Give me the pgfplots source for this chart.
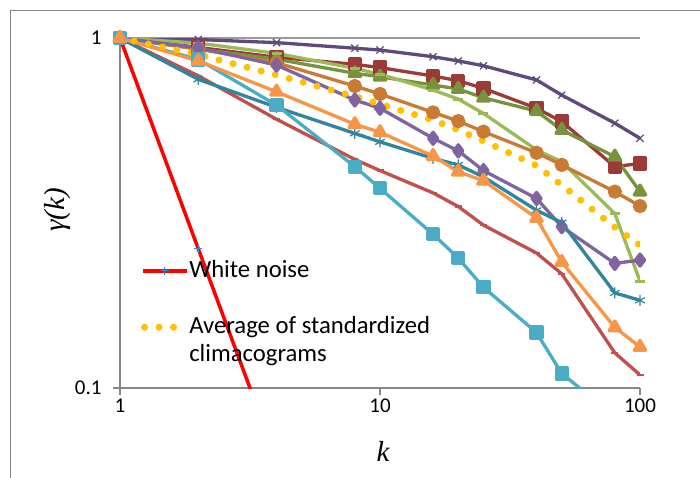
\documentclass[border=0pt]{standalone}
\usepackage{fontspec}
\setmainfont{Carlito}
\newfontfamily\tnr{Liberation Serif}
\usepackage{pgfplots}
\pgfplotsset{compat=1.18}
\definecolor{axgray}{HTML}{878787}
\definecolor{gridgray}{HTML}{9A9A9A}
\definecolor{cA}{HTML}{604A7B}
\definecolor{cB}{HTML}{9B3B38}
\definecolor{cC}{HTML}{77933C}
\definecolor{cD}{HTML}{9BBB59}
\definecolor{cE}{HTML}{C97A33}
\definecolor{cF}{HTML}{8064A2}
\definecolor{cG}{HTML}{F79646}
\definecolor{cH}{HTML}{31859C}
\definecolor{cI}{HTML}{C0504D}
\definecolor{cJ}{HTML}{4BACC6}
\definecolor{cWN}{HTML}{FF0000}
\definecolor{cWNm}{HTML}{4F81BD}
\definecolor{cAvg}{HTML}{FFC000}
\pgfplotsset{
  wnlegend/.style={legend image code/.code={\draw[mark repeat=2,mark phase=2,##1] plot coordinates {(0pt,0pt) (22pt,0pt) (44pt,0pt)};}},
  avglegend/.style={legend image code/.code={\draw[##1] (2pt,0pt) -- (33pt,0pt);}},
}
\begin{document}
\begin{tikzpicture}
\fill[white] (-120pt,-89pt) rectangle (580pt,388pt);
\path[use as bounding box] (-120pt,-89pt) rectangle (580pt,388pt);
\draw[axgray, line width=1pt] (-109pt,-95pt) -- (-109pt,377pt) -- (590pt,377pt);
\begin{axis}[
  scale only axis, width=520pt, height=350pt, at={(0,0)}, anchor=south west,
  xmode=log, ymode=log, xmin=1, xmax=100, ymin=0.1, ymax=1,
  axis x line*=bottom, axis y line*=left,
  axis line style={draw=axgray, line width=1.3pt, -},
  xtick={1,10,100}, xticklabels={1,10,100},
  ytick={0.1,1}, yticklabels={0.1,1},
  xminorticks=false, yminorticks=false,
  tick align=outside, major tick length=7pt,
  tick style={draw=axgray, line width=1.3pt},
  ymajorgrids, grid style={draw=gridgray, line width=1.5pt},
  tick label style={font=\fontsize{21}{25}\selectfont},
  yticklabel style={xshift=-8pt},
  xlabel={\tnr\itshape k},
  ylabel={\tnr\itshape γ(k)},
  xlabel style={font=\fontsize{29}{34}\selectfont, at={(axis description cs:0.506,-0.181)}, anchor=center},
  ylabel style={font=\fontsize{29}{34}\selectfont, at={(axis description cs:-0.121,0.509)}, anchor=center},
  every axis plot/.append style={line width=3.3pt, line join=round},
  legend cell align=left,
  legend style={draw=none, fill=none, at={(axis description cs:0.040,0.3686)}, anchor=north west,
    inner sep=0pt, outer sep=0pt, row sep=4.1pt, column sep=1pt,
    nodes={inner sep=0pt, text height=18.5pt, text depth=5.5pt},
    font=\fontsize{24.7}{29}\selectfont},
]
% White noise
\addplot[color=cWN, line width=3.5pt, mark=+, mark size=4pt, mark options={draw=cWNm, line width=1pt}, wnlegend]
  coordinates {(1,1) (2,0.25) (4,0.0625) (8,0.015625)};
\addlegendimage{empty legend}
% A dark purple x
\addplot[forget plot, color=cA, mark=x, mark size=5pt, mark options={line width=1.3pt}]
  coordinates {(1,1)(2,0.99)(4,0.97)(8,0.935)(10,0.924)(16,0.884)(20,0.86)(25,0.833)(40,0.759)(50,0.687)(80,0.571)(100,0.517)};
% B dark red squares
\addplot[forget plot, color=cB, mark=square*, mark size=5.5pt]
  coordinates {(1,1)(2,0.94)(4,0.881)(8,0.841)(10,0.823)(16,0.779)(20,0.755)(25,0.718)(40,0.63)(50,0.577)(80,0.429)(100,0.438)};
% C olive triangles
\addplot[forget plot, color=cC, mark=triangle*, mark size=6.5pt]
  coordinates {(1,1)(2,0.93)(4,0.87)(8,0.793)(10,0.775)(16,0.734)(20,0.715)(25,0.675)(40,0.618)(50,0.546)(80,0.458)(100,0.364)};
% D light green bars
\addplot[forget plot, color=cD, mark=-, mark size=5pt, mark options={line width=3pt}]
  coordinates {(1,1)(2,0.967)(4,0.904)(8,0.819)(10,0.788)(16,0.71)(20,0.669)(25,0.609)(40,0.479)(50,0.443)(80,0.315)(100,0.202)};
% E orange-brown circles
\addplot[forget plot, color=cE, mark=*, mark size=5.5pt]
  coordinates {(1,1)(2,0.93)(4,0.85)(8,0.729)(10,0.692)(16,0.613)(20,0.579)(25,0.54)(40,0.47)(50,0.434)(80,0.364)(100,0.331)};
% F purple diamonds
\addplot[forget plot, color=cF, mark=diamond*, mark size=6pt]
  coordinates {(1,1)(2,0.938)(4,0.837)(8,0.665)(10,0.63)(16,0.517)(20,0.476)(25,0.418)(40,0.348)(50,0.289)(80,0.227)(100,0.232)};
% I red-brown dashes
\addplot[forget plot, color=cI, mark=-, mark size=3.5pt, mark options={line width=2.5pt}]
  coordinates {(1,1)(2,0.78)(4,0.586)(8,0.45)(10,0.418)(16,0.361)(20,0.33)(25,0.292)(40,0.243)(50,0.212)(80,0.126)(100,0.109)};
% H teal asterisks
\addplot[forget plot, color=cH, mark=asterisk, mark size=5.5pt, mark options={line width=1.2pt}]
  coordinates {(1,1)(2,0.762)(4,0.634)(8,0.534)(10,0.505)(16,0.453)(20,0.434)(25,0.401)(40,0.322)(50,0.297)(80,0.187)(100,0.178)};
% J light blue squares
\addplot[forget plot, color=cJ, mark=square*, mark size=5.5pt]
  coordinates {(1,1)(2,0.869)(4,0.643)(8,0.429)(10,0.372)(16,0.275)(20,0.235)(25,0.194)(40,0.144)(50,0.11)(80,0.083)(100,0.075)};
% G orange triangles
\addplot[forget plot, color=cG, mark=triangle*, mark size=6.5pt]
  coordinates {(1,1)(2,0.86)(4,0.702)(8,0.567)(10,0.538)(16,0.46)(20,0.415)(25,0.391)(40,0.306)(50,0.229)(80,0.149)(100,0.131)};
% Average
\addplot[color=cAvg, line width=7pt, line cap=round, dash pattern=on 0pt off 14.5pt, avglegend]
  coordinates {(1,1)(2,0.897)(4,0.784)(8,0.681)(10,0.647)(16,0.583)(20,0.546)(25,0.508)(40,0.432)(50,0.38)(80,0.288)(100,0.256)};
\addlegendimage{empty legend}
\legend{White noise,\mbox{},Average of standardized,climacograms}
\end{axis}
\end{tikzpicture}
\end{document}
